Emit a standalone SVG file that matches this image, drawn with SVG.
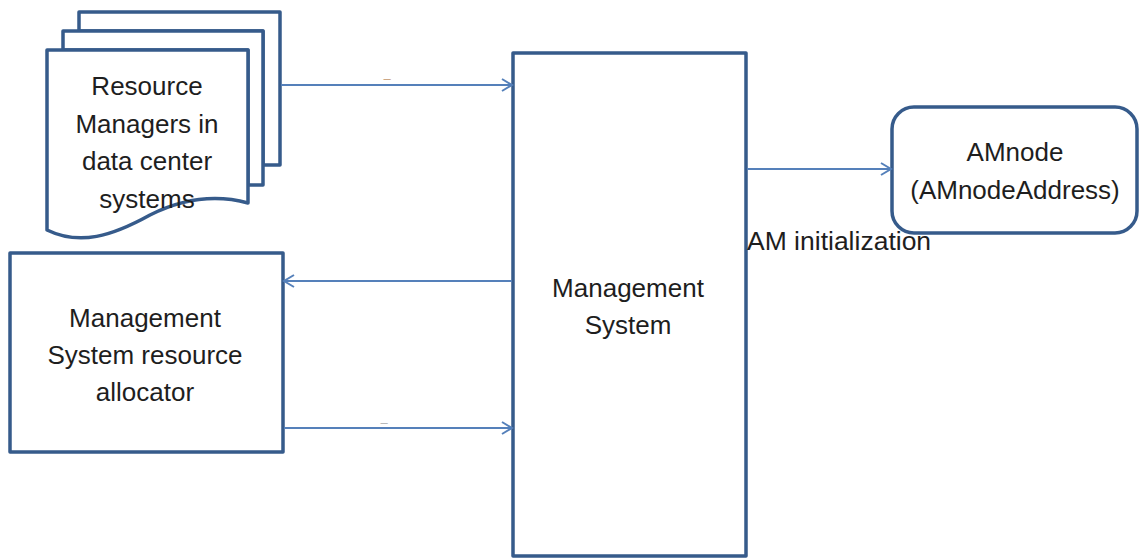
<svg xmlns="http://www.w3.org/2000/svg" width="1139" height="559" viewBox="0 0 1139 559">
  <style>
    .box { fill: #ffffff; stroke: #365b8b; stroke-width: 3.5; stroke-linejoin: round; }
    .lbl { font-family: "Liberation Sans", Arial, sans-serif; font-size: 26px; fill: #1e1e1e; text-anchor: middle; }
    .note { font-family: "Liberation Sans", Arial, sans-serif; font-size: 26.5px; fill: #1e1e1e; text-anchor: start; }
    .edge { stroke: #5580ba; stroke-width: 2; fill: none; }
    .tick { font-family: "Liberation Sans", Arial, sans-serif; font-size: 13px; text-anchor: middle; }
  </style>
  <defs>
    <marker id="arrow" markerWidth="14" markerHeight="14" refX="11" refY="7" orient="auto" markerUnits="userSpaceOnUse">
      <polyline points="1,1 11,7 1,13" fill="none" stroke="#5580ba" stroke-width="2"/>
    </marker>
  </defs>

  <rect width="1139" height="559" fill="#ffffff"/>

  <!-- stack of resource manager documents -->
  <g id="resource-managers">
    <path class="box" d="M79,12 H280 V165 H263 V31 H79 Z"/>
    <path class="box" d="M63,31 H263 V185 H248 V50 H63 Z"/>
    <path class="box" d="M47,50 H248 V203 C222,196 188,196 150,215 C112,236 80,246 47,230 Z"/>
    <text class="lbl" x="147" y="95">Resource</text>
    <text class="lbl" x="147" y="133">Managers in</text>
    <text class="lbl" x="147" y="170">data center</text>
    <text class="lbl" x="147" y="208">systems</text>
  </g>

  <!-- resource allocator -->
  <g id="resource-allocator">
    <rect class="box" x="10" y="253" width="273" height="199"/>
    <text class="lbl" x="145" y="327">Management</text>
    <text class="lbl" x="145" y="364">System resource</text>
    <text class="lbl" x="145" y="401">allocator</text>
  </g>

  <!-- central management system -->
  <g id="management-system">
    <rect class="box" x="513" y="53" width="233" height="503"/>
    <text class="lbl" x="628" y="297">Management</text>
    <text class="lbl" x="628" y="334">System</text>
  </g>

  <!-- application master node -->
  <g id="am-node">
    <rect class="box" x="892" y="107" width="245" height="126" rx="22" ry="22"/>
    <text class="lbl" x="1015" y="161">AMnode</text>
    <text class="lbl" x="1015" y="199">(AMnodeAddress)</text>
  </g>

  <!-- connectors -->
  <g id="connectors">
    <line class="edge" x1="281" y1="85" x2="512" y2="85" marker-end="url(#arrow)"/>
    <line class="edge" x1="512" y1="281" x2="284" y2="281" marker-end="url(#arrow)"/>
    <line class="edge" x1="284" y1="428" x2="512" y2="428" marker-end="url(#arrow)"/>
    <line class="edge" x1="747" y1="169" x2="891" y2="169" marker-end="url(#arrow)"/>
    <text class="tick" x="387" y="83" fill="#c9a27e">–</text>
    <text class="tick" x="384" y="427" fill="#b5b5b5">–</text>
    <text class="note" x="747" y="250">AM initialization</text>
  </g>
</svg>
